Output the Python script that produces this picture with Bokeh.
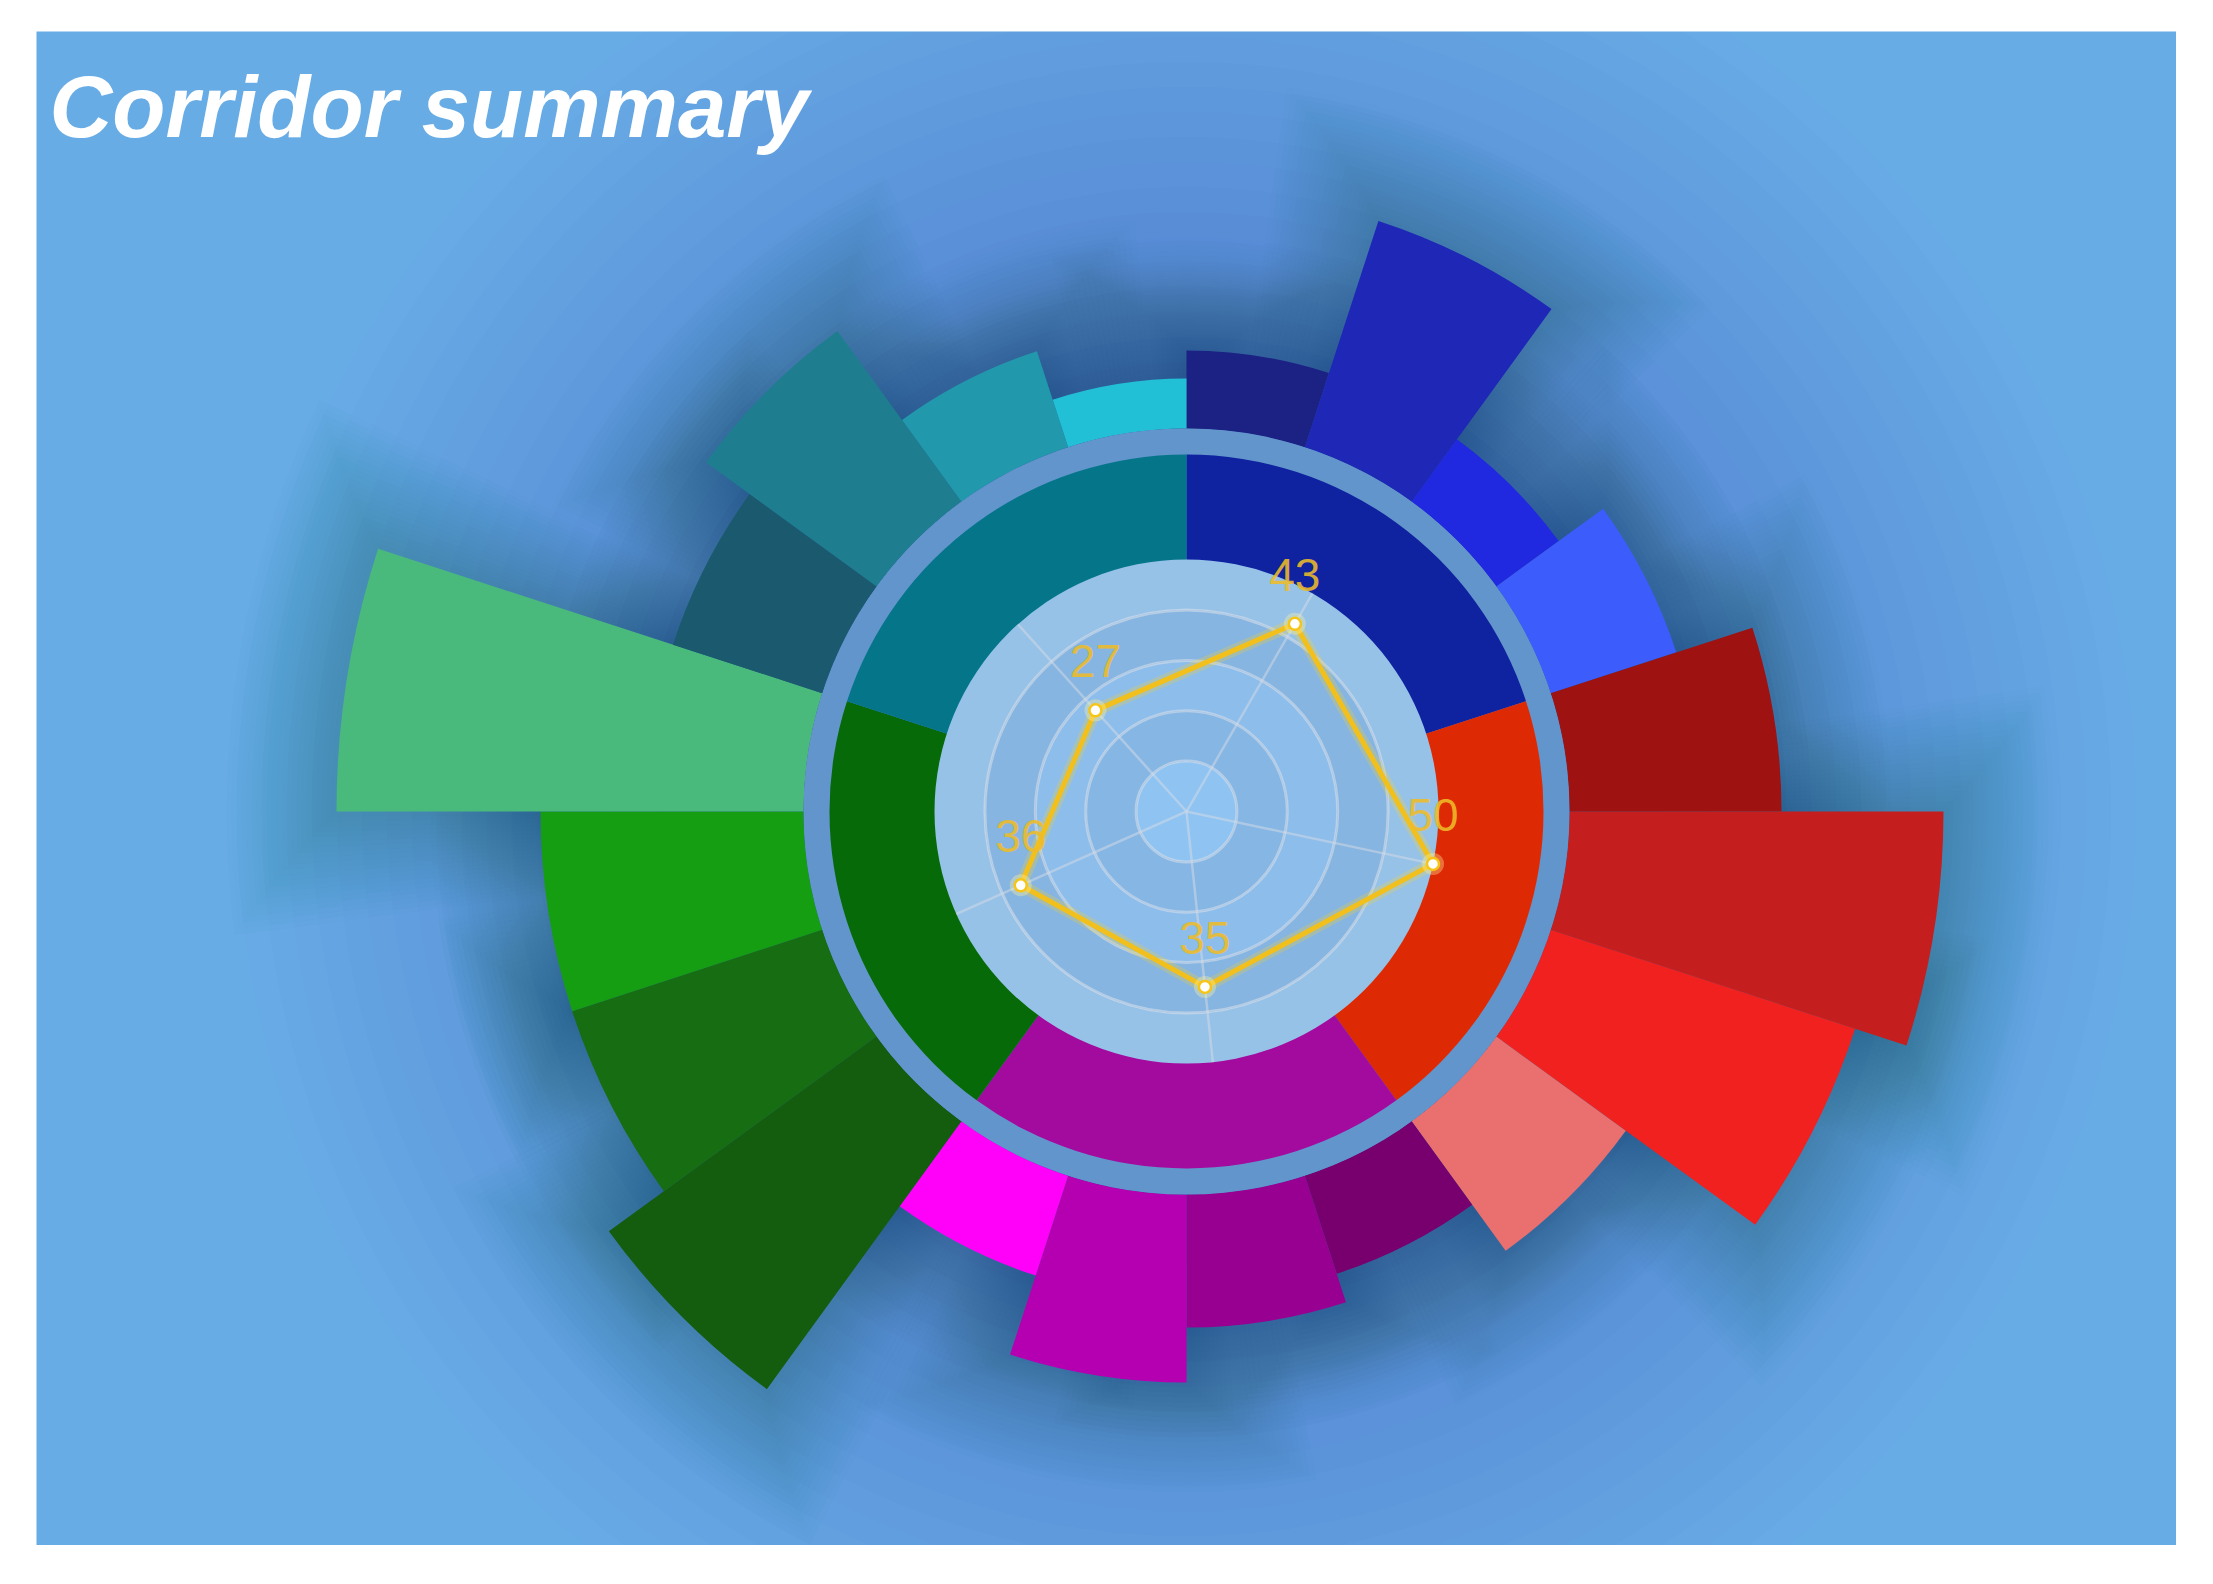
import math
from bokeh.plotting import figure
from bokeh.models import Range1d, ColumnDataSource
from bokeh.core.properties import value
from bokeh.embed import file_html
from bokeh.resources import INLINE

# ---------------- data ----------------
title_text = "Corridor summary"

groups = ["Northern", "Eastern", "Southern", "Western", "Central"]
group_colors = ["#0f22a0", "#de2a04", "#a30a9e", "#066a08", "#05758a"]

child_values = [
    [15.6, 47.6, 15.4, 26.4],   # Northern
    [42.4, 74.8, 64.0, 32.0],   # Eastern
    [20.6, 26.6, 37.6, 21.0],   # Southern
    [66.2, 52.6, 52.6, 93.4],   # Western
    [31.4, 42.2, 20.2, 10.0],   # Central
]
child_colors = [
    ["#1c2184", "#1e27b6", "#2028e0", "#3d5cfc"],
    ["#9e1212", "#c41f1e", "#f0211e", "#ea7070"],
    ["#78006e", "#980092", "#b400b0", "#ff00f8"],
    ["#145c0e", "#176e12", "#169e12", "#4aba7c"],
    ["#1b5a6e", "#1e7e90", "#2298ac", "#22c0d6"],
]

radar_labels = ["43", "50", "35", "36", "27"]
radar_values = [43, 50, 35, 36, 27]
radar_max = 50
radar_levels = [10, 20, 30, 40, 50]
radar_start_deg = 30  # compass angle of the first indicator

# ---------------- geometry / style ----------------
R_RADAR = 252
R_RING_IN = 252
R_RING_OUT = 357
R_BAR_IN = 383
PX_PER_UNIT = 5.0
BG = "#68ace6"
SHADOW = "#2a3a4a"

p = figure(width=2140, height=1514, output_backend="svg", toolbar_location=None,
           x_range=Range1d(-1150, 990), y_range=Range1d(-734, 780),
           x_axis_type=None, y_axis_type=None, min_border=0)
p.margin = (31, 0, 0, 36)
p.background_fill_color = BG
p.border_fill_color = BG
p.outline_line_color = None
p.grid.visible = False


def compass_to_math(c_deg):
    return math.radians(90.0 - c_deg)


# broad radial darkening (shadow)
radii = list(range(950, 380, -25))
p.circle(x=[0] * len(radii), y=[0] * len(radii), radius=radii,
         fill_color=SHADOW, fill_alpha=0.007, line_color=None)

# ---------------- outer bars ----------------
n_groups = len(groups)
group_span = 360.0 / n_groups
bin_, bout, bs, be, bc = [], [], [], [], []
for g in range(n_groups):
    vals = child_values[g]
    step = group_span / len(vals)
    for i, v in enumerate(vals):
        c0 = g * group_span + i * step
        c1 = c0 + step
        bin_.append(R_BAR_IN)
        bout.append(R_BAR_IN + v * PX_PER_UNIT)
        bs.append(compass_to_math(c1))
        be.append(compass_to_math(c0))
        bc.append(child_colors[g][i])

# soft shadow halos around bars
for d in range(110, 0, -5):
    hs, he, ho = [], [], []
    for s, e, o in zip(bs, be, bout):
        da = d / o
        hs.append(s - da)
        he.append(e + da)
        ho.append(o + d)
    p.annular_wedge(x=0, y=0, inner_radius=R_BAR_IN, outer_radius=ho,
                    start_angle=hs, end_angle=he, fill_color=SHADOW,
                    fill_alpha=0.01, line_color=None)

bar_src = ColumnDataSource(dict(inner=bin_, outer=bout, start=bs, end=be, color=bc))
p.annular_wedge(x=0, y=0, inner_radius="inner", outer_radius="outer",
                start_angle="start", end_angle="end", fill_color="color",
                line_color=None, source=bar_src)

# band between ring and bars
p.annulus(x=0, y=0, inner_radius=R_RING_OUT - 2, outer_radius=R_BAR_IN,
          fill_color="#6295cc", line_color=None)

# ---------------- inner ring ----------------
rs, re_ = [], []
for g in range(n_groups):
    rs.append(compass_to_math((g + 1) * group_span))
    re_.append(compass_to_math(g * group_span))
ring_src = ColumnDataSource(dict(start=rs, end=re_, color=group_colors))
p.annular_wedge(x=0, y=0, inner_radius=R_RING_IN - 2, outer_radius=R_RING_OUT,
                start_angle="start", end_angle="end", fill_color="color",
                line_color=None, source=ring_src)

# ---------------- radar ----------------
band_colors = ["#8ec3f2", "#86b6e4", "#8dbdeb", "#86b5e1", "#96c2e8"]
lvl_r = [lv / radar_max * R_RADAR for lv in radar_levels]
inner_r = [0] + lvl_r[:-1]
p.annulus(x=[0] * len(lvl_r), y=[0] * len(lvl_r), inner_radius=inner_r,
          outer_radius=lvl_r, fill_color=band_colors, line_color=None)
p.circle(x=[0] * 4, y=[0] * 4, radius=lvl_r[:-1], fill_color=None,
         line_color="#dde2ea", line_alpha=0.55, line_width=3)

n_ax = len(radar_values)
ax_ang = [radar_start_deg + k * 360.0 / n_ax for k in range(n_ax)]
p.segment(x0=[0] * n_ax, y0=[0] * n_ax,
          x1=[R_RADAR * math.sin(math.radians(a)) for a in ax_ang],
          y1=[R_RADAR * math.cos(math.radians(a)) for a in ax_ang],
          line_color="#d6dce6", line_alpha=0.5, line_width=2.5)

px = [v / radar_max * R_RADAR * math.sin(math.radians(a)) for v, a in zip(radar_values, ax_ang)]
py = [v / radar_max * R_RADAR * math.cos(math.radians(a)) for v, a in zip(radar_values, ax_ang)]
p.line(px + px[:1], py + py[:1], line_color="#ffd21e", line_alpha=0.25, line_width=12)
p.line(px + px[:1], py + py[:1], line_color="#f2c01c", line_width=5)
p.scatter(px, py, size=22, fill_color="#fff3a0", fill_alpha=0.35, line_color=None)
p.scatter(px, py, size=12, fill_color="white", line_color="#f5c518", line_width=2.5)

p.text(x=px, y=[y + 49 for y in py], text=radar_labels, text_color="#eebc28",
       text_alpha=0.9, text_font=value("Liberation Sans"), text_font_size="46px",
       text_align="center", text_baseline="middle")

# ---------------- title ----------------
p.text(x=[-1137], y=[705], text=[title_text], text_color="white",
       text_font=value("Liberation Sans"), text_font_style="bold italic",
       text_font_size="87px", text_baseline="alphabetic", text_align="left")

open("out.html", "w").write(file_html(p, INLINE))
